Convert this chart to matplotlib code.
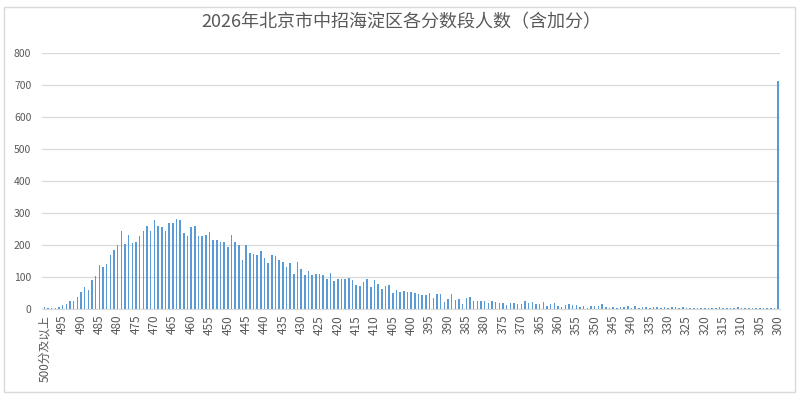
import matplotlib
matplotlib.use("Agg")
import matplotlib.pyplot as plt
from matplotlib.patches import Rectangle

plt.rcParams['font.family'] = ['Noto Sans CJK SC', 'DejaVu Sans']

title = "2026年北京市中招海淀区各分数段人数（含加分）"

# categories: "500分及以上", then 499 ... 300
scores = ["500分及以上"] + [str(s) for s in range(499, 299, -1)]

counts_top = [6, 3, 3, 5, 6, 14, 17, 26, 26, 39, 54, 70, 60, 92, 104, 139, 132, 142, 170, 185,
              201, 245, 204, 232, 207]
counts_peak = [210, 229, 245, 260, 245, 279, 260, 257, 245, 270, 270, 282, 279, 238, 229, 257,
               260, 229, 229, 232, 242, 217, 217, 210, 210, 194]
counts_mid = [232, 210, 200, 154, 200, 175, 172, 169, 182, 160, 145, 169, 166, 154, 148, 132,
              145, 110, 148, 126, 107, 120, 107, 110]
counts_low = [110, 106, 95, 114, 90, 95, 95, 95, 98, 93, 76, 73, 85, 95, 70, 93, 79, 64, 73, 76,
              51, 60, 54, 57, 54, 54, 51, 48]
counts_tail = [44, 44, 51, 35, 48, 48, 23, 32, 48, 29, 32, 17, 35, 38, 26, 26, 26, 26, 20, 26,
               23, 20, 20, 14, 20, 20, 17, 17, 26, 20, 23, 17, 17, 23, 10, 17, 20, 10, 7]
counts_end = [12, 17, 14, 14, 7, 10, 4, 10, 10, 10, 17, 7, 4, 7, 4, 7, 7, 10, 4, 10, 4, 7, 7, 4,
              7, 7, 4, 7, 4, 7, 7, 4, 7,
              4, 4, 3, 4, 4, 4, 5, 4, 4, 7, 4, 4, 4, 4, 7, 4, 4, 3, 4, 4, 3, 4, 4, 3, 4,
              715]

counts = counts_top + counts_peak + counts_mid + counts_low + counts_tail + counts_end

yticks = list(range(0, 801, 100))

fig = plt.figure(figsize=(8.03, 3.99), dpi=100)
fig.patch.set_facecolor("white")

# chart area border like an Excel chart object
fig.patches.append(Rectangle((4 / 803, 7 / 399), 791 / 803, 385 / 399, transform=fig.transFigure,
                             fill=False, edgecolor="#d9d9d9", linewidth=1))

ax = fig.add_axes([0.0529, 0.2248, 0.9185, 0.6416])
x = list(range(len(scores)))
ax.bar(x, counts, width=0.42, color="#5B9BD5", zorder=3)

ax.set_xlim(-0.5, len(scores) - 0.5)
ax.set_ylim(0, 800)
ax.set_yticks(yticks)
ax.set_yticklabels([str(v) for v in yticks], fontsize=7.5, color="#595959")
ax.yaxis.grid(True, color="#d9d9d9", linewidth=0.9, zorder=0)
ax.tick_params(axis="y", length=0, pad=8)

tick_idx = list(range(0, len(scores), 5))
ax.set_xticks(tick_idx)
ax.set_xticklabels([scores[i] for i in tick_idx], rotation=90, fontsize=8.5, color="#595959")
ax.tick_params(axis="x", length=0, pad=4)

for side in ["top", "right", "left"]:
    ax.spines[side].set_visible(False)
ax.spines["bottom"].set_color("#d9d9d9")

fig.text(0.5, 0.945, title, ha="center", va="center", fontsize=13, color="#595959")

fig.savefig("out.png", dpi=100)
